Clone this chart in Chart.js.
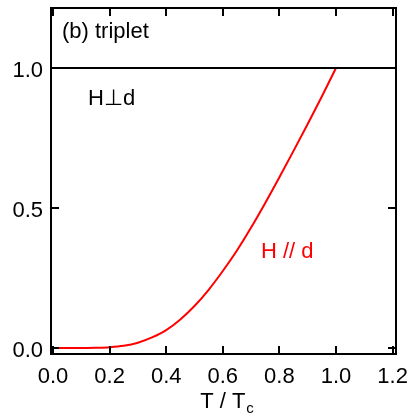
<!DOCTYPE html>
<html>
<head>
<meta charset="utf-8">
<script src="https://cdn.jsdelivr.net/npm/chart.js@4/dist/chart.umd.min.js"></script>
<style>
  html, body { margin: 0; padding: 0; background: #fff; }
  #wrap { width: 409px; height: 414px; }
</style>
</head>
<body>
<div id="wrap"><canvas id="myChart" width="409" height="414"></canvas></div>
<script>
// T / Tc and the normalised value for H // d (red curve)
const temps = [0, 0.05, 0.1, 0.15, 0.2, 0.25, 0.3, 0.35, 0.4, 0.45, 0.5, 0.55, 0.6,
  0.65, 0.7, 0.75, 0.8, 0.85, 0.9, 0.95, 1.0];
const parValues = [0, 0, 0, 0.001, 0.003, 0.008, 0.019, 0.038, 0.064, 0.102, 0.15, 0.208, 0.275,
  0.348, 0.43, 0.518, 0.61, 0.704, 0.8, 0.898, 1.0];
// H perp d stays at 1 over the whole range
const perpTemps = [-0.02, 1.25];
const perpValues = [1, 1];
const xTicks = [0, 0.2, 0.4, 0.6, 0.8, 1.0, 1.2];
const yTicks = [0, 0.5, 1.0];

const FONT = "'Liberation Sans', Arial, sans-serif";

// frame, inward ticks, labels and the axis title
const framePlugin = {
  id: 'frame',
  afterDraw(chart) {
    const c = chart.ctx;
    const a = chart.chartArea;
    const xs = chart.scales.x, ys = chart.scales.y;
    c.save();
    c.strokeStyle = '#000';
    c.lineWidth = 2;
    c.strokeRect(a.left, a.top, a.right - a.left, a.bottom - a.top);
    c.beginPath();
    xTicks.forEach(v => {
      const px = Math.round(xs.getPixelForValue(v));
      c.moveTo(px, a.bottom); c.lineTo(px, a.bottom - 8);
      c.moveTo(px, a.top); c.lineTo(px, a.top + 8);
    });
    yTicks.forEach(v => {
      const py = Math.round(ys.getPixelForValue(v));
      c.moveTo(a.left, py); c.lineTo(a.left + 8, py);
      c.moveTo(a.right, py); c.lineTo(a.right - 8, py);
    });
    c.stroke();

    c.textBaseline = 'alphabetic';
    c.font = '22px ' + FONT;
    c.fillStyle = '#000';
    // tick labels
    c.textAlign = 'center';
    xTicks.forEach(v => {
      c.fillText(v.toFixed(1), xs.getPixelForValue(v), a.bottom + 29);
    });
    c.textAlign = 'right';
    yTicks.forEach(v => {
      c.fillText(v.toFixed(1), a.left - 8, ys.getPixelForValue(v) + 9);
    });

    c.textAlign = 'left';
    c.fillText('(b) triplet', 62, 38);
    c.fillText('H\u22A5d', 88, 105);
    c.fillStyle = '#ff0000';
    c.fillText('H // d', 261, 258);

    // x title with subscript
    c.fillStyle = '#000';
    const main = 'T / T';
    c.font = '22px ' + FONT;
    const w1 = c.measureText(main).width;
    c.font = '15px ' + FONT;
    const w2 = c.measureText('c').width;
    const cx = (a.left + a.right) / 2 + 3;
    const x0 = cx - (w1 + w2) / 2;
    c.font = '22px ' + FONT;
    c.fillText(main, x0, 408);
    c.font = '15px ' + FONT;
    c.fillText('c', x0 + w1 + 1, 413);
    c.restore();
  }
};

new Chart(document.getElementById('myChart'), {
  type: 'line',
  data: {
    datasets: [{
      label: 'H // d',
      data: temps.map((t, i) => ({ x: t, y: parValues[i] })),
      borderColor: '#ff0000',
      borderWidth: 2,
      pointRadius: 0,
      cubicInterpolationMode: 'monotone',
      order: 2
    }, {
      label: 'H perp d',
      data: perpTemps.map((t, i) => ({ x: t, y: perpValues[i] })),
      borderColor: '#000',
      borderWidth: 2,
      pointRadius: 0,
      order: 1
    }]
  },
  options: {
    responsive: false,
    animation: false,
    devicePixelRatio: 1,
    layout: { padding: { top: 8, right: 13, left: 0, bottom: 0 } },
    plugins: { legend: { display: false }, tooltip: { enabled: false } },
    scales: {
      x: {
        type: 'linear',
        min: -0.007,
        max: 1.212,
        afterBuildTicks: s => { s.ticks = xTicks.map(v => ({ value: v })); },
        afterFit: s => { s.height = 60; s.paddingLeft = 0; s.paddingRight = 0; },
        grid: { display: false, drawTicks: false },
        border: { display: false },
        ticks: { display: false }
      },
      y: {
        type: 'linear',
        min: -0.0214,
        max: 1.2143,
        afterBuildTicks: s => { s.ticks = yTicks.map(v => ({ value: v })); },
        afterFit: s => { s.width = 51; s.paddingTop = 0; s.paddingBottom = 0; },
        grid: { display: false, drawTicks: false },
        border: { display: false },
        ticks: { display: false }
      }
    }
  },
  plugins: [framePlugin]
});
</script>
</body>
</html>
